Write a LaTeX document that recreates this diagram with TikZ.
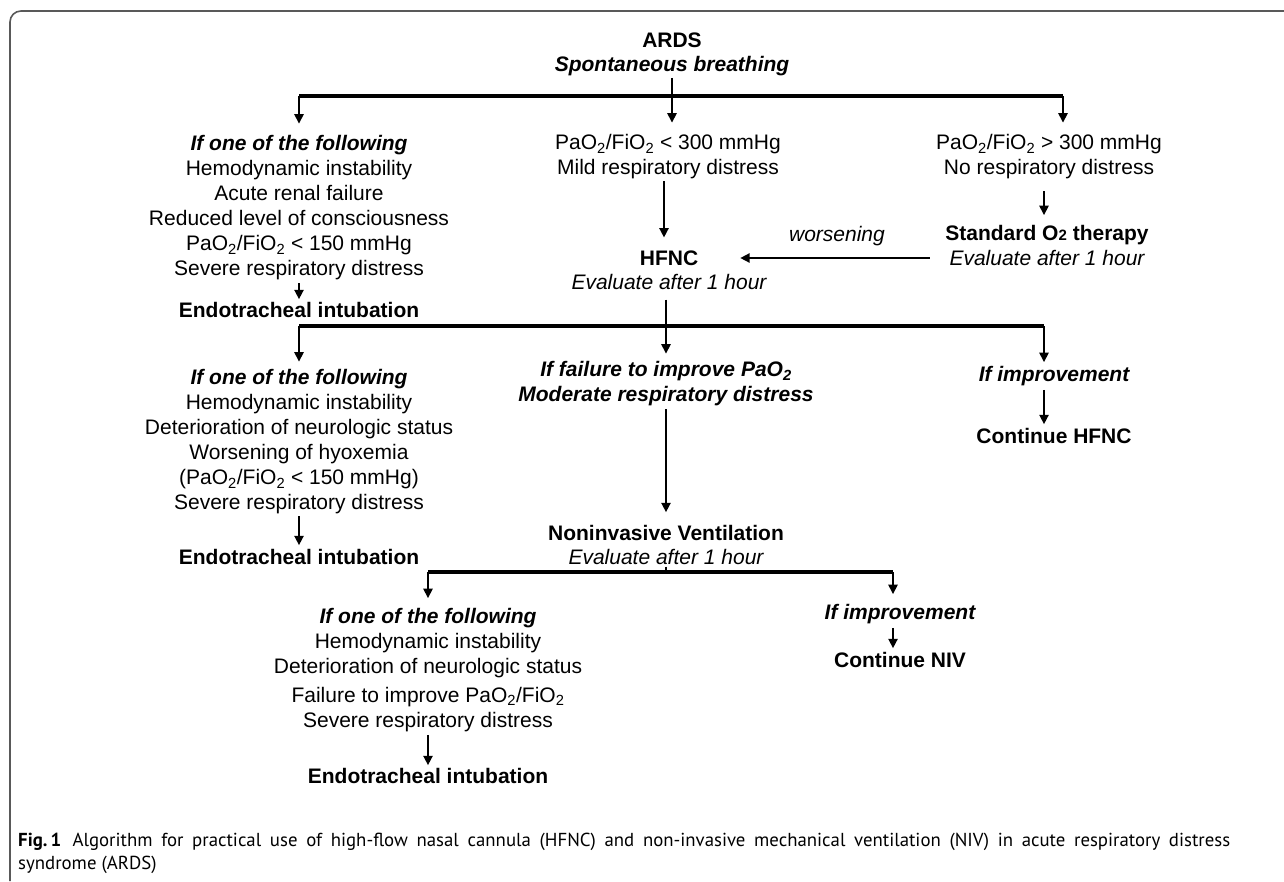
\documentclass[tikz,border=0pt]{standalone}
\usepackage{fontspec}
\setmainfont{Liberation Sans}
\newfontfamily\capfont{PT Sans}
\usetikzlibrary{arrows.meta}
\newcommand{\sbt}[1]{\textsubscript{#1}}
\begin{document}
\begin{tikzpicture}[x=1pt,y=-1pt,
  base/.style={inner sep=0pt, outer sep=0pt, align=center, font=\fontsize{21}{25}\selectfont},
  bb/.style={base, font=\fontsize{21}{25}\selectfont\bfseries},
  bi/.style={base, font=\fontsize{21}{25}\selectfont\bfseries\itshape},
  ii/.style={base, font=\fontsize{21}{25}\selectfont\itshape},
  arr/.style={line width=2.4pt, -{Triangle[length=9.5pt,width=9pt]}},
  stem/.style={line width=2.4pt},
  bus/.style={line width=3.4pt},
  frm/.style={draw=black!65, line width=1.6pt, rounded corners=11pt},
  captxt/.style={inner sep=0pt, anchor=base west, font=\capfont\fontsize{18.8}{23}\selectfont}]
\useasboundingbox (0,0) rectangle (1284,881);
\draw[frm] (1284,11) -- (10,11) -- (10,881);

% top
\node[bb] (ards) at (672,40) {ARDS};
\node[bi] (spont) at (672,66) {Spontaneous breathing};
\coordinate (b1m) at (672,96);
\coordinate (b1l) at (299,96);
\coordinate (b1r) at (1063,96);
\draw[stem, shorten <=2pt] (spont.south) -- (b1m);
\draw[bus] (b1l) -- (b1r);

% level 1
\node[base] (L1) at (299,208) {\textbf{\textit{If one of the following}}\\Hemodynamic instability\\Acute renal failure\\Reduced level of consciousness\\PaO\sbt2/FiO\sbt2 < 150 mmHg\\Severe respiratory distress};
\node[bb] (E1) at (299,310) {Endotracheal intubation};
\node[base] (M1) at (668,157) {PaO\sbt2/FiO\sbt2 < 300 mmHg\\Mild respiratory distress};
\node[bb] (H1) at (669,258) {HFNC};
\node[ii] (H2) at (669,282) {Evaluate after 1 hour};
\node[base] (R1) at (1049,157) {PaO\sbt2/FiO\sbt2 > 300 mmHg\\No respiratory distress};
\node[bb] (S1) at (1047,235) {Standard O{\fontsize{15}{15}\selectfont 2} therapy};
\node[ii] (S2) at (1047,258) {Evaluate after 1 hour};
\node[ii] (W) at (837,236) {worsening};
\coordinate (xr) at (1044,0);
\coordinate (xm) at (664,0);

\draw[arr, shorten >=12pt] (b1l) -- (L1.north -| b1l);
\draw[arr, shorten >=12pt] (b1m) -- (M1.north -| b1m);
\draw[arr, shorten >=12pt] (b1r) -- (R1.north -| b1r);
\draw[arr, shorten <=3pt, shorten >=3pt] (L1.south -| b1l) -- (E1.north -| b1l);
\draw[arr, shorten <=2pt, shorten >=13pt] (M1.south -| xm) -- (H1.north -| xm);
\draw[arr, shorten <=12pt, shorten >=10pt] (R1.south -| xr) -- (S1.north -| xr);
\draw[arr, shorten <=20pt, shorten >=42pt] (S2.west) -- (H1.east |- S2.west);

% level 2
\coordinate (b2m) at (666,326);
\coordinate (b2l) at (299,326);
\coordinate (b2r) at (1044,326);
\draw[stem, shorten <=10pt] (H2.south -| b2m) -- (b2m);
\draw[bus] (b2l) -- (b2r);

\node[base] (L2) at (299,442) {\textbf{\textit{If one of the following}}\\Hemodynamic instability\\Deterioration of neurologic status\\Worsening of hyoxemia\\(PaO\sbt2/FiO\sbt2 < 150 mmHg)\\Severe respiratory distress};
\node[bb] (E2) at (299,557) {Endotracheal intubation};
\node[bi] (M2) at (666,384) {If failure to improve PaO\sbt2\\Moderate respiratory distress};
\node[bb] (N1) at (666,533) {Noninvasive Ventilation};
\node[ii] (N2) at (666,557) {Evaluate after 1 hour};
\node[bi] (R2) at (1054,376) {If improvement};
\node[bb] (C1) at (1054,436) {Continue HFNC};

\draw[arr, shorten >=8pt] (b2l) -- (L2.north -| b2l);
\draw[arr, shorten >=8pt] (b2m) -- (M2.north -| b2m);
\draw[arr, shorten >=4pt] (b2r) -- (R2.north -| b2r);
\draw[arr, shorten <=2pt, shorten >=4pt] (L2.south -| b2l) -- (E2.north -| b2l);
\draw[arr, shorten <=3pt, shorten >=13pt] (M2.south -| b2m) -- (N1.north -| b2m);
\draw[arr, shorten <=4pt, shorten >=4pt] (R2.south -| b2r) -- (C1.north -| b2r);

% level 3
\coordinate (b3m) at (666,572);
\coordinate (b3l) at (428,572);
\coordinate (b3r) at (893,572);
\draw[stem, shorten <=2pt] (N2.south -| b3m) -- (b3m);
\draw[bus] (b3l) -- (b3r);

\node[base] (L3) at (428,670) {\textbf{\textit{If one of the following}}\\Hemodynamic instability\\Deterioration of neurologic status\\[4pt]Failure to improve PaO\sbt2/FiO\sbt2\\Severe respiratory distress};
\node[bb] (E3) at (428,776) {Endotracheal intubation};
\node[bi] (R3) at (900,614) {If improvement};
\node[bb] (C2) at (900,660) {Continue NIV};

\draw[arr, shorten >=10pt] (b3l) -- (L3.north -| b3l);
\draw[arr, shorten >=10pt] (b3r) -- (R3.north -| b3r);
\draw[arr, shorten <=3pt, shorten >=3pt] (L3.south -| b3l) -- (E3.north -| b3l);
\draw[arr, shorten <=4pt, shorten >=4pt] (R3.south -| b3r) -- (C2.north -| b3r);

% caption
\node[captxt] (cap1) at (18,846) {\makebox[1212pt][s]{\textbf{Fig.\,1}\hspace{0.6em}Algorithm for practical use of high-flow nasal cannula (HFNC) and non-invasive mechanical ventilation (NIV) in acute respiratory distress}};
\node[captxt] (cap2) at (18,869) {syndrome (ARDS)};
\end{tikzpicture}
\end{document}
